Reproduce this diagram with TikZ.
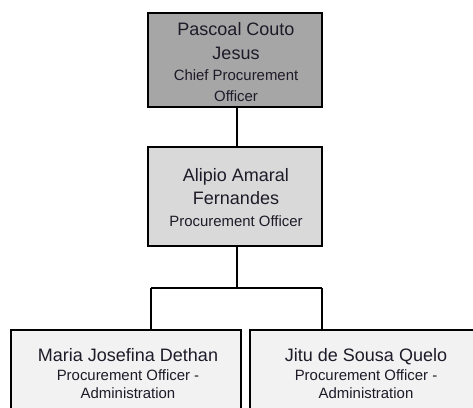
\documentclass[tikz,border=0pt]{standalone}
\usepackage{fontspec}
\setmainfont{Liberation Sans}
\definecolor{topfill}{HTML}{A6A6A6}
\definecolor{midfill}{HTML}{D9D9D9}
\definecolor{lowfill}{HTML}{F2F2F2}
\definecolor{txt}{HTML}{1E1A28}
\begin{document}
\begin{tikzpicture}[x=0.75pt,y=-0.75pt,
  box/.style={draw=black,line width=1.6pt,inner sep=0pt,outer sep=0pt,rectangle},
  namet/.style={anchor=base,inner sep=0pt,text=txt,font=\fontsize{13.5}{16}\selectfont},
  subt/.style={anchor=base,inner sep=0pt,text=txt,font=\fontsize{11.2}{13}\selectfont},
  conn/.style={draw=black,line width=1.6pt}]
\useasboundingbox (0,0) rectangle (473,407);
\clip (0,0) rectangle (473,407);
% boxes
\node[box,fill=topfill,minimum width=174*0.75pt,minimum height=94*0.75pt] (top) at (235,60) {};
\node[box,fill=midfill,minimum width=174*0.75pt,minimum height=99*0.75pt] (mid) at (235,196.5) {};
\node[box,fill=lowfill,minimum width=230*0.75pt,minimum height=120*0.75pt] (bl) at (126,390) {};
\node[box,fill=lowfill,minimum width=230*0.75pt,minimum height=120*0.75pt] (br) at (365,390) {};
% texts
\node[namet] (t1) at (236,35) {Pascoal Couto};
\node[namet] (t2) at (236,59) {Jesus};
\node[subt] (t3) at (236,80) {Chief Procurement};
\node[subt] (t4) at (236,101) {Officer};
\node[namet] (m1) at (236,181) {Alipio Amaral};
\node[namet] (m2) at (236,204) {Fernandes};
\node[subt] (m3) at (236,226) {Procurement Officer};
\node[namet] (l1) at (128,361) {Maria Josefina Dethan};
\node[subt] (l2) at (128,380) {Procurement Officer -};
\node[subt] (l3) at (128,398) {Administration};
\node[namet] (r1) at (366,361) {Jitu de Sousa Quelo};
\node[subt] (r2) at (366,380) {Procurement Officer -};
\node[subt] (r3) at (366,398) {Administration};
% connectors
\coordinate (jl) at (151,288);
\coordinate (jr) at (322,288);
\draw[conn] (top.south -| 237,0) -- (mid.north -| 237,0);
\draw[conn] (mid.south -| 237,0) -- (237,288);
\draw[conn] (jl) -- (jr);
\draw[conn] (jl) -- (jl |- bl.north);
\draw[conn] (jr) -- (jr |- br.north);
\end{tikzpicture}
\end{document}
